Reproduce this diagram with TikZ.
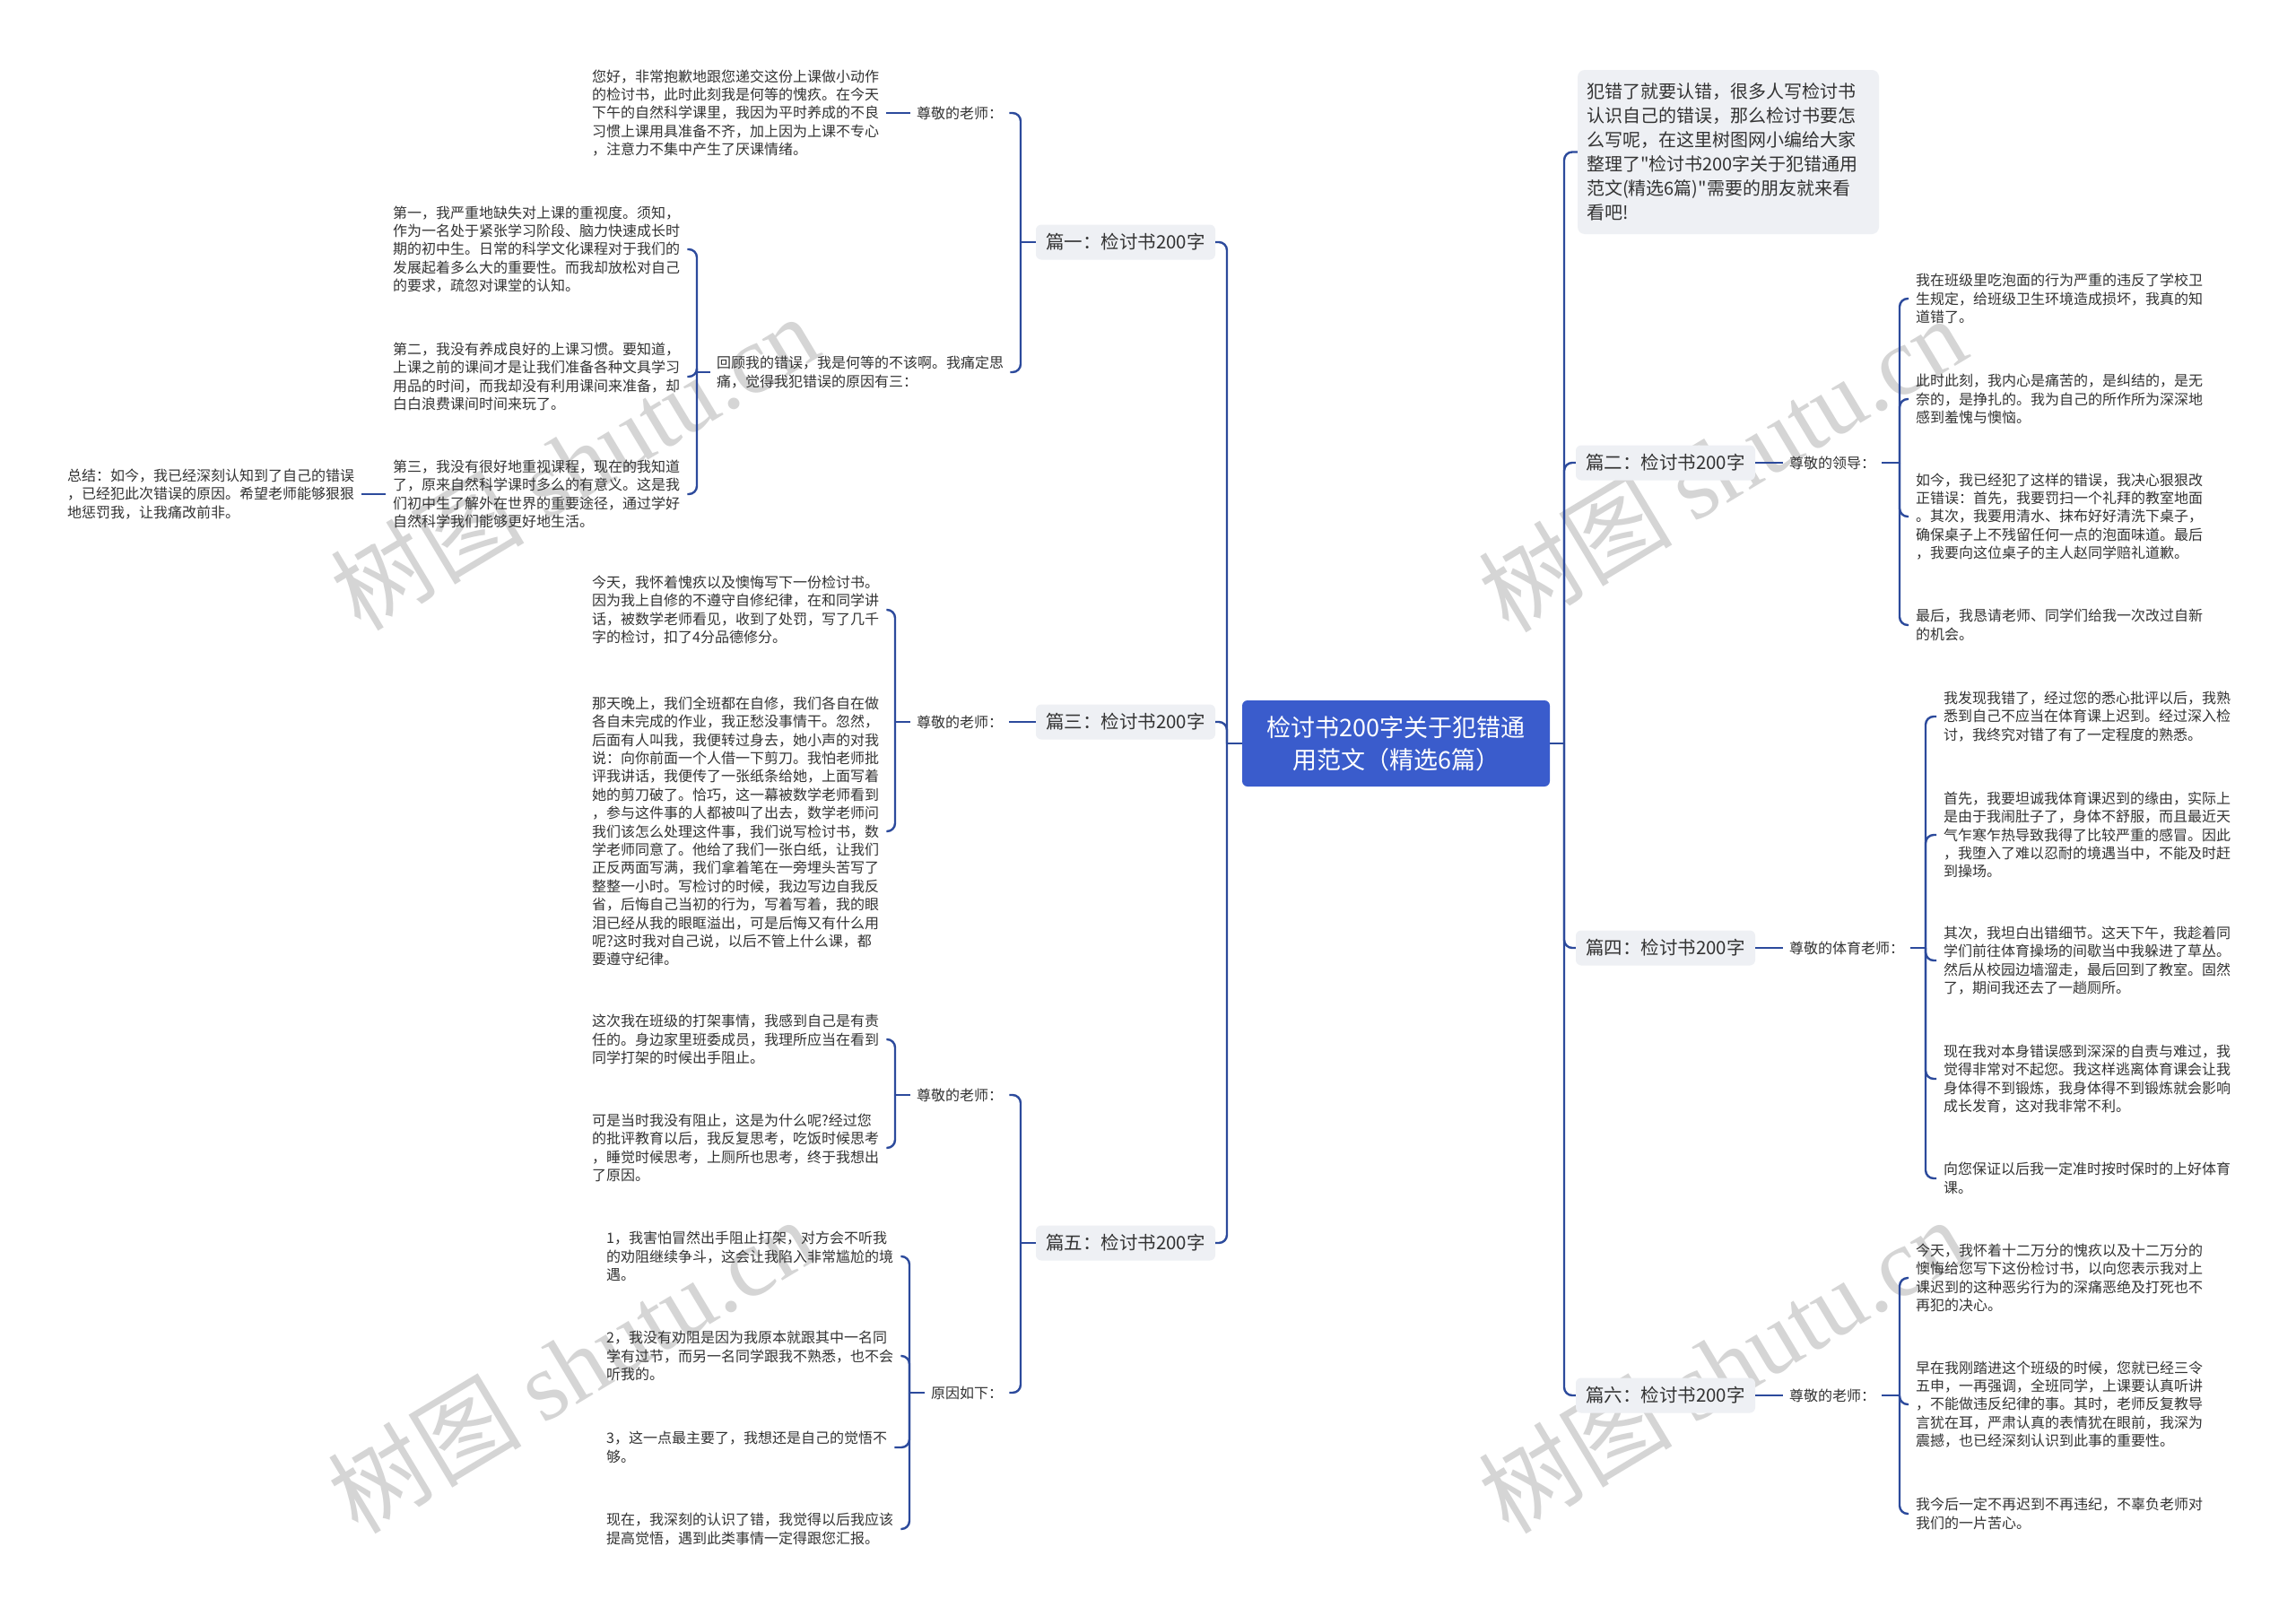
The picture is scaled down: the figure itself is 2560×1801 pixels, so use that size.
\documentclass[tikz,border=0pt]{standalone}
\usepackage{fontspec}
\setmainfont{Noto Sans CJK SC}[Ligatures=TeXOff]
\newfontfamily\wmserif{Liberation Serif}
\definecolor{linec}{HTML}{2C4A9C}
\definecolor{ctrfill}{HTML}{3A5CCC}
\definecolor{boxfill}{HTML}{EEF0F4}
\definecolor{txt}{HTML}{333333}
\definecolor{wm}{HTML}{D5D5D5}
\tikzset{
 conn/.style={draw=linec, line width=2.4bp, rounded corners=9bp},
 body/.style={anchor=west, align=left, text=txt, inner xsep=8bp, inner ysep=2bp, font=\fontsize{16bp}{20.4bp}\selectfont},
 lab/.style={body, inner xsep=7bp},
 brbox/.style={fill=boxfill, rounded corners=6bp, minimum width=200bp, minimum height=39bp, inner sep=0pt, text=txt, font=\fontsize{20.5bp}{24bp}\selectfont},
 ctrbox/.style={fill=ctrfill, rounded corners=6bp, minimum width=343bp, minimum height=96bp, text=white, align=center, font=\fontsize{27bp}{36bp}\selectfont},
 introbox/.style={fill=boxfill, rounded corners=8bp, minimum height=183bp, text width=316bp, inner xsep=10bp, align=left, text=txt, font=\fontsize{20bp}{27bp}\selectfont},
 wmark/.style={text=wm, rotate=31, font=\fontsize{108bp}{112bp}\selectfont}
}
\begin{document}
\begin{tikzpicture}[x=1bp,y=-1bp]
\useasboundingbox (0,0) rectangle (2560,1801);
\fill[white] (0,0) rectangle (2560,1801);
% watermarks
\node[wmark] (wm1) at (640,515) {树图 {\wmserif shutu.cn}};
\node[wmark] (wm2) at (1920,517) {树图 {\wmserif shutu.cn}};
\node[wmark] (wm3) at (637,1522) {树图 {\wmserif shutu.cn}};
\node[wmark] (wm4) at (1920,1522) {树图 {\wmserif shutu.cn}};
% center and branches
\node[ctrbox] (ctr) at (1556.5,829) {检讨书200字关于犯错通\\用范文（精选6篇）};
\node[brbox] (p1) at (1255,270) {篇一：检讨书200字};
\node[brbox] (p3) at (1255,805) {篇三：检讨书200字};
\node[brbox] (p5) at (1255,1386) {篇五：检讨书200字};
\node[brbox] (p2) at (1857,516) {篇二：检讨书200字};
\node[brbox] (p4) at (1857,1057) {篇四：检讨书200字};
\node[brbox] (p6) at (1857,1556) {篇六：检讨书200字};
\node[introbox] (intro) at (1927,169.5) {犯错了就要认错，很多人写检讨书\\认识自己的错误，那么检讨书要怎\\么写呢，在这里树图网小编给大家\\整理了"检讨书200字关于犯错通用\\范文(精选6篇)"需要的朋友就来看\\看吧!};
% ---- 篇一
\node[lab] (a1) at (1015,126) {尊敬的老师：};
\node[body] (a1t) at (652,126) {您好，非常抱歉地跟您递交这份上课做小动作\\的检讨书，此时此刻我是何等的愧疚。在今天\\下午的自然科学课里，我因为平时养成的不良\\习惯上课用具准备不齐，加上因为上课不专心\\，注意力不集中产生了厌课情绪。};
\node[lab] (b1) at (792,415) {回顾我的错误，我是何等的不该啊。我痛定思\\痛，觉得我犯错误的原因有三：};
\node[body] (b1x) at (430,278) {第一，我严重地缺失对上课的重视度。须知，\\作为一名处于紧张学习阶段、脑力快速成长时\\期的初中生。日常的科学文化课程对于我们的\\发展起着多么大的重要性。而我却放松对自己\\的要求，疏忽对课堂的认知。};
\node[body] (b1y) at (430,420) {第二，我没有养成良好的上课习惯。要知道，\\上课之前的课间才是让我们准备各种文具学习\\用品的时间，而我却没有利用课间来准备，却\\白白浪费课间时间来玩了。};
\node[body] (b1z) at (430,551) {第三，我没有很好地重视课程，现在的我知道\\了，原来自然科学课时多么的有意义。这是我\\们初中生了解外在世界的重要途径，通过学好\\自然科学我们能够更好地生活。};
\node[body] (b1s) at (67,551) {总结：如今，我已经深刻认知到了自己的错误\\，已经犯此次错误的原因。希望老师能够狠狠\\地惩罚我，让我痛改前非。};
% ---- 篇三
\node[lab] (a3) at (1015,805) {尊敬的老师：};
\node[body] (a3x) at (652,680) {今天，我怀着愧疚以及懊悔写下一份检讨书。\\因为我上自修的不遵守自修纪律，在和同学讲\\话，被数学老师看见，收到了处罚，写了几千\\字的检讨，扣了4分品德修分。};
\node[body] (a3y) at (652,927) {那天晚上，我们全班都在自修，我们各自在做\\各自未完成的作业，我正愁没事情干。忽然，\\后面有人叫我，我便转过身去，她小声的对我\\说：向你前面一个人借一下剪刀。我怕老师批\\评我讲话，我便传了一张纸条给她，上面写着\\她的剪刀破了。恰巧，这一幕被数学老师看到\\，参与这件事的人都被叫了出去，数学老师问\\我们该怎么处理这件事，我们说写检讨书，数\\学老师同意了。他给了我们一张白纸，让我们\\正反两面写满，我们拿着笔在一旁埋头苦写了\\整整一小时。写检讨的时候，我边写边自我反\\省，后悔自己当初的行为，写着写着，我的眼\\泪已经从我的眼眶溢出，可是后悔又有什么用\\呢?这时我对自己说，以后不管上什么课，都\\要遵守纪律。};
% ---- 篇五
\node[lab] (a5) at (1015,1221) {尊敬的老师：};
\node[lab] (b5) at (1031,1553) {原因如下：};
\node[body] (a5x) at (652,1159) {这次我在班级的打架事情，我感到自己是有责\\任的。身边家里班委成员，我理所应当在看到\\同学打架的时候出手阻止。};
\node[body] (a5y) at (652,1280) {可是当时我没有阻止，这是为什么呢?经过您\\的批评教育以后，我反复思考，吃饭时候思考\\，睡觉时候思考，上厕所也思考，终于我想出\\了原因。};
\node[body] (b5w) at (668,1401) {1，我害怕冒然出手阻止打架，对方会不听我\\的劝阻继续争斗，这会让我陷入非常尴尬的境\\遇。};
\node[body] (b5x) at (668,1512) {2，我没有劝阻是因为我原本就跟其中一名同\\学有过节，而另一名同学跟我不熟悉，也不会\\听我的。};
\node[body] (b5y) at (668,1614) {3，这一点最主要了，我想还是自己的觉悟不\\够。};
\node[body] (b5z) at (668,1705) {现在，我深刻的认识了错，我觉得以后我应该\\提高觉悟，遇到此类事情一定得跟您汇报。};
% ---- 篇二
\node[lab] (r2) at (1988,516) {尊敬的领导：};
\node[body] (r2a) at (2128,333) {我在班级里吃泡面的行为严重的违反了学校卫\\生规定，给班级卫生环境造成损坏，我真的知\\道错了。};
\node[body] (r2b) at (2128,445) {此时此刻，我内心是痛苦的，是纠结的，是无\\奈的，是挣扎的。我为自己的所作所为深深地\\感到羞愧与懊恼。};
\node[body] (r2c) at (2128,576) {如今，我已经犯了这样的错误，我决心狠狠改\\正错误：首先，我要罚扫一个礼拜的教室地面\\。其次，我要用清水、抹布好好清洗下桌子，\\确保桌子上不残留任何一点的泡面味道。最后\\，我要向这位桌子的主人赵同学赔礼道歉。};
\node[body] (r2d) at (2128,697) {最后，我恳请老师、同学们给我一次改过自新\\的机会。};
% ---- 篇四
\node[lab] (r4) at (1988,1057) {尊敬的体育老师：};
\node[body] (r4a) at (2159,799) {我发现我错了，经过您的悉心批评以后，我熟\\悉到自己不应当在体育课上迟到。经过深入检\\讨，我终究对错了有了一定程度的熟悉。};
\node[body] (r4b) at (2159,931) {首先，我要坦诚我体育课迟到的缘由，实际上\\是由于我闹肚子了，身体不舒服，而且最近天\\气乍寒乍热导致我得了比较严重的感冒。因此\\，我堕入了难以忍耐的境遇当中，不能及时赶\\到操场。};
\node[body] (r4c) at (2159,1071) {其次，我坦白出错细节。这天下午，我趁着同\\学们前往体育操场的间歇当中我躲进了草丛。\\然后从校园边墙溜走，最后回到了教室。固然\\了，期间我还去了一趟厕所。};
\node[body] (r4d) at (2159,1203) {现在我对本身错误感到深深的自责与难过，我\\觉得非常对不起您。我这样逃离体育课会让我\\身体得不到锻炼，我身体得不到锻炼就会影响\\成长发育，这对我非常不利。};
\node[body] (r4e) at (2159,1314) {向您保证以后我一定准时按时保时的上好体育\\课。};
% ---- 篇六
\node[lab] (r6) at (1988,1556) {尊敬的老师：};
\node[body] (r6a) at (2128,1425) {今天，我怀着十二万分的愧疚以及十二万分的\\懊悔给您写下这份检讨书，以向您表示我对上\\课迟到的这种恶劣行为的深痛恶绝及打死也不\\再犯的决心。};
\node[body] (r6b) at (2128,1566) {早在我刚踏进这个班级的时候，您就已经三令\\五申，一再强调，全班同学，上课要认真听讲\\，不能做违反纪律的事。其时，老师反复教导\\言犹在耳，严肃认真的表情犹在眼前，我深为\\震撼，也已经深刻认识到此事的重要性。};
\node[body] (r6c) at (2128,1688) {我今后一定不再迟到不再违纪，不辜负老师对\\我们的一片苦心。};
% ---- junctions
\coordinate (jL) at (1368,829);
\coordinate (jR) at (1744,829);
\coordinate (j1) at (1138,270);
\coordinate (jb1) at (777,415);
\coordinate (j3) at (998,805);
\coordinate (j5) at (1138,1386);
\coordinate (j5a) at (998,1221);
\coordinate (j5b) at (1014,1553);
\coordinate (jr2) at (2118,516);
\coordinate (jr4) at (2147,1057);
\coordinate (jr6) at (2118,1556);
% ---- connectors
\draw[conn] (ctr.west) -- (jL);
\foreach \n in {p1,p3,p5} \draw[conn] (jL) |- (\n.east);
\draw[conn] (ctr.east) -- (jR);
\foreach \n in {intro,p2,p4,p6} \draw[conn] (jR) |- (\n.west);
\draw[conn] (p1.west) -- (j1);
\foreach \n in {a1,b1} \draw[conn] (j1) |- (\n.east);
\draw[conn] (a1.west) -- (a1t.east);
\draw[conn] (b1.west) -- (jb1);
\foreach \n in {b1x,b1y,b1z} \draw[conn] (jb1) |- (\n.east);
\draw[conn] (b1z.west) -- (b1s.east);
\draw[conn] (p3.west) -- (a3.east);
\draw[conn] (a3.west) -- (j3);
\foreach \n in {a3x,a3y} \draw[conn] (j3) |- (\n.east);
\draw[conn] (p5.west) -- (j5);
\foreach \n in {a5,b5} \draw[conn] (j5) |- (\n.east);
\draw[conn] (a5.west) -- (j5a);
\foreach \n in {a5x,a5y} \draw[conn] (j5a) |- (\n.east);
\draw[conn] (b5.west) -- (j5b);
\foreach \n in {b5w,b5x,b5y,b5z} \draw[conn] (j5b) |- (\n.east);
\draw[conn] (p2.east) -- (r2.west);
\draw[conn] (r2.east) -- (jr2);
\foreach \n in {r2a,r2b,r2c,r2d} \draw[conn] (jr2) |- (\n.west);
\draw[conn] (p4.east) -- (r4.west);
\draw[conn] (r4.east) -- (jr4);
\foreach \n in {r4a,r4b,r4c,r4d,r4e} \draw[conn] (jr4) |- (\n.west);
\draw[conn] (p6.east) -- (r6.west);
\draw[conn] (r6.east) -- (jr6);
\foreach \n in {r6a,r6b,r6c} \draw[conn] (jr6) |- (\n.west);
\end{tikzpicture}
\end{document}
